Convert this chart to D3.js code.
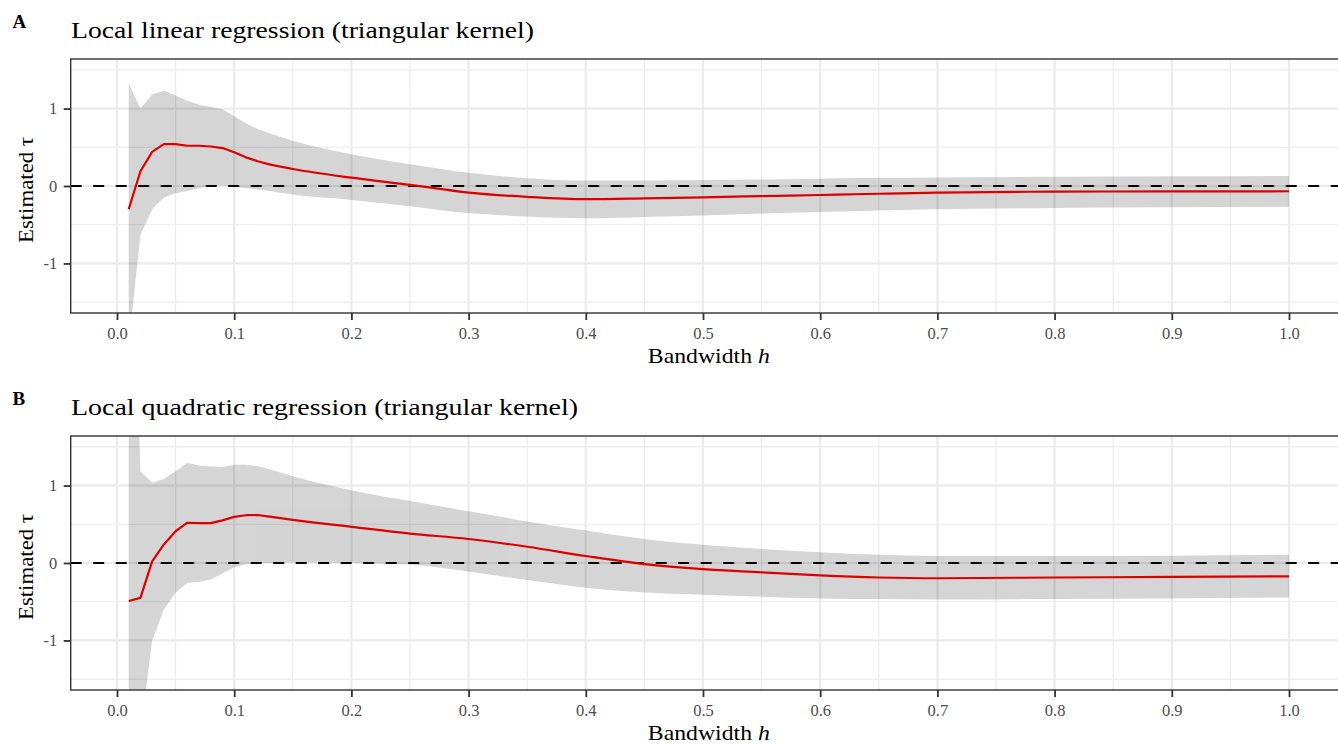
<!DOCTYPE html>
<html>
<head>
<meta charset="utf-8">
<script src="https://cdn.jsdelivr.net/npm/d3@7"></script>
<style>
html,body{margin:0;padding:0;background:#fff;}
svg{display:block;}
text{font-family:"Liberation Serif","Times New Roman",serif;}
</style>
</head>
<body>
<svg id="chart" width="1338" height="744"></svg>
<script>
// ---- data ----
const bandwidth = [0.01,0.02,0.03,0.04,0.05,0.06,0.07,0.08,0.09,0.10,0.11,0.12,0.13,
                   0.15,0.20,0.25,0.30,0.35,0.40,0.45,0.50,0.55,0.60,0.65,0.70,0.80,0.90,1.00];

const estLinear = [-0.30,0.19,0.44,0.54,0.54,0.52,0.52,0.51,0.49,0.435,0.37,0.32,0.28,
                   0.22,0.107,0.015,-0.085,-0.14,-0.17,-0.16,-0.146,-0.13,-0.116,-0.10,-0.086,-0.073,-0.07,-0.068];
const upperLinear = [1.325,1.0,1.18,1.23,1.17,1.10,1.05,1.02,0.99,0.90,0.81,0.735,0.68,
                     0.585,0.41,0.28,0.17,0.10,0.07,0.07,0.077,0.085,0.095,0.105,0.11,0.12,0.125,0.13];
const lowerLinear = [-2.05,-0.63,-0.30,-0.15,-0.095,-0.065,-0.03,0.0,0.005,-0.01,-0.03,-0.045,-0.065,
                     -0.11,-0.18,-0.26,-0.35,-0.395,-0.417,-0.40,-0.38,-0.355,-0.335,-0.315,-0.30,-0.284,-0.275,-0.267];

const estQuad = [-0.49,-0.45,0.02,0.24,0.41,0.52,0.515,0.515,0.55,0.595,0.617,0.62,0.60,
                 0.557,0.467,0.38,0.31,0.21,0.09,-0.015,-0.08,-0.12,-0.16,-0.187,-0.197,-0.187,-0.18,-0.172];
const upperQuad = [6.3,1.18,1.035,1.085,1.185,1.29,1.26,1.245,1.24,1.27,1.27,1.25,1.21,
                   1.12,0.94,0.80,0.667,0.537,0.42,0.31,0.235,0.18,0.14,0.105,0.09,0.09,0.095,0.105];
const lowerQuad = [-3.0,-2.2,-1.0,-0.6,-0.385,-0.255,-0.245,-0.213,-0.135,-0.055,-0.015,0.0,0.0,
                   0.005,0.0,-0.02,-0.11,-0.22,-0.32,-0.38,-0.41,-0.435,-0.457,-0.465,-0.47,-0.465,-0.457,-0.445];

const panelTags = ["A","B"];
const panelTitles = ["Local linear regression (triangular kernel)",
                     "Local quadratic regression (triangular kernel)"];
const xTickValues = [0,0.1,0.2,0.3,0.4,0.5,0.6,0.7,0.8,0.9,1.0];
const xMinorValues = [0.05,0.15,0.25,0.35,0.45,0.55,0.65,0.75,0.85,0.95];
const yTickValues = [-1,0,1];
const yMinorValues = [-1.5,-0.5,0.5,1.5];
const xLabel = "Bandwidth ";
const xLabelItalic = "h";
const yLabel = "Estimated τ";

// ---- layout ----
const svg = d3.select("#chart");
const panels = [
  {tag:panelTags[0], title:panelTitles[0], est:estLinear, up:upperLinear, lo:lowerLinear, dy:0, titleLen:463},
  {tag:panelTags[1], title:panelTitles[1], est:estQuad, up:upperQuad, lo:lowerQuad, dy:377, titleLen:507}
];
const SPLIT = 12; // dense (0.01-spaced) part drawn with straight segments, sparse part smoothed

const x = d3.scaleLinear().domain([-0.0395, 1.0495]).range([70.7, 1347]);

panels.forEach((p, i) => {
  const top = 59 + p.dy, bottom = 313 + p.dy;
  const y = d3.scaleLinear().domain([-1.64, 1.64]).range([bottom, top]);
  const g = svg.append("g");
  const data = bandwidth.map((h, k) => ({h, est:p.est[k], up:p.up[k], lo:p.lo[k]}));
  const dense = data.slice(0, SPLIT + 1), sparse = data.slice(SPLIT);

  const clipId = "clip" + i;
  svg.append("clipPath").attr("id", clipId)
    .append("rect").attr("x", x.range()[0]).attr("y", top)
    .attr("width", x.range()[1] - x.range()[0]).attr("height", bottom - top);

  // grid
  const grid = g.append("g");
  grid.selectAll(".vminor").data(xMinorValues).join("line")
    .attr("x1", d => x(d)).attr("x2", d => x(d)).attr("y1", top).attr("y2", bottom)
    .attr("stroke", "#ebebeb").attr("stroke-width", 1.1);
  grid.selectAll(".hminor").data(yMinorValues).join("line")
    .attr("y1", d => y(d)).attr("y2", d => y(d)).attr("x1", x.range()[0]).attr("x2", x.range()[1])
    .attr("stroke", "#ebebeb").attr("stroke-width", 1.1);
  grid.selectAll(".vmajor").data(xTickValues).join("line")
    .attr("x1", d => x(d)).attr("x2", d => x(d)).attr("y1", top).attr("y2", bottom)
    .attr("stroke", "#ebebeb").attr("stroke-width", 2.2);
  grid.selectAll(".hmajor").data(yTickValues).join("line")
    .attr("y1", d => y(d)).attr("y2", d => y(d)).attr("x1", x.range()[0]).attr("x2", x.range()[1])
    .attr("stroke", "#ebebeb").attr("stroke-width", 2.2);

  const plot = g.append("g").attr("clip-path", `url(#${clipId})`);
  // ribbon
  const rib = plot.append("g").attr("opacity", 0.165);
  rib.append("path").datum(dense)
    .attr("d", d3.area().x(d => x(d.h)).y0(d => y(d.lo)).y1(d => y(d.up)).curve(d3.curveLinear))
    .attr("fill", "#000");
  rib.append("path").datum(sparse)
    .attr("d", d3.area().x(d => x(d.h)).y0(d => y(d.lo)).y1(d => y(d.up)).curve(d3.curveMonotoneX))
    .attr("fill", "#000");
  rib.append("line").attr("x1", x(data[SPLIT].h)).attr("x2", x(data[SPLIT].h))
    .attr("y1", y(data[SPLIT].lo)).attr("y2", y(data[SPLIT].up))
    .attr("stroke", "#000").attr("stroke-width", 1);
  // zero line
  plot.append("line")
    .attr("x1", x.range()[0]).attr("x2", x.range()[1]).attr("y1", y(0)).attr("y2", y(0))
    .attr("stroke", "#000").attr("stroke-width", 2.2).attr("stroke-dasharray", "11,11.5");
  // estimate
  const lin = d3.line().x(d => x(d.h)).y(d => y(d.est)).curve(d3.curveLinear)(dense);
  const smooth = d3.line().x(d => x(d.h)).y(d => y(d.est)).curve(d3.curveMonotoneX)(sparse);
  plot.append("path")
    .attr("d", lin + smooth.replace(/^M/, "L"))
    .attr("fill", "none").attr("stroke", "#dd0000").attr("stroke-width", 2.2)
    .attr("stroke-linejoin", "round");

  // panel border
  g.append("rect").attr("x", x.range()[0]).attr("y", top)
    .attr("width", x.range()[1] - x.range()[0]).attr("height", bottom - top)
    .attr("fill", "none").attr("stroke", "#333").attr("stroke-width", 1.4);

  // axes
  const xa = g.append("g").attr("transform", `translate(0,${bottom})`)
    .call(d3.axisBottom(x).tickValues(xTickValues).tickFormat(d3.format(".1f")).tickSize(7).tickPadding(7));
  const ya = g.append("g").attr("transform", `translate(${x.range()[0]},0)`)
    .call(d3.axisLeft(y).tickValues(yTickValues).tickFormat(d => String(d)).tickSize(7).tickPadding(6.5));
  [xa, ya].forEach(a => {
    a.attr("font-size", null).attr("font-family", null);
    a.select(".domain").remove();
    a.selectAll(".tick line").attr("stroke", "#333").attr("stroke-width", 1.8);
    a.selectAll(".tick text").attr("fill", "#4d4d4d").attr("font-size", 16.5);
  });

  // tag and title
  svg.append("text").attr("x", 12.5).attr("y", 28 + p.dy).text(p.tag)
    .attr("font-weight", "bold").attr("font-size", 19).attr("fill", "#000");
  svg.append("text").attr("x", 71).attr("y", 38.3 + p.dy).text(p.title)
    .attr("font-size", 23.5).attr("fill", "#000")
    .attr("textLength", p.titleLen).attr("lengthAdjust", "spacingAndGlyphs");

  // axis titles
  const xt = svg.append("text").attr("x", (x.range()[0] + x.range()[1]) / 2).attr("y", 363 + p.dy)
    .attr("text-anchor", "middle").attr("font-size", 21).attr("fill", "#000")
    .attr("textLength", 122).attr("lengthAdjust", "spacingAndGlyphs");
  xt.append("tspan").text(xLabel);
  xt.append("tspan").attr("font-style", "italic").text(xLabelItalic);

  svg.append("text").attr("transform", `translate(32.5,${190 + p.dy}) rotate(-90)`)
    .attr("text-anchor", "middle").attr("font-size", 21).attr("fill", "#000")
    .attr("textLength", 106).attr("lengthAdjust", "spacingAndGlyphs")
    .text(yLabel);
});
</script>
</body>
</html>
